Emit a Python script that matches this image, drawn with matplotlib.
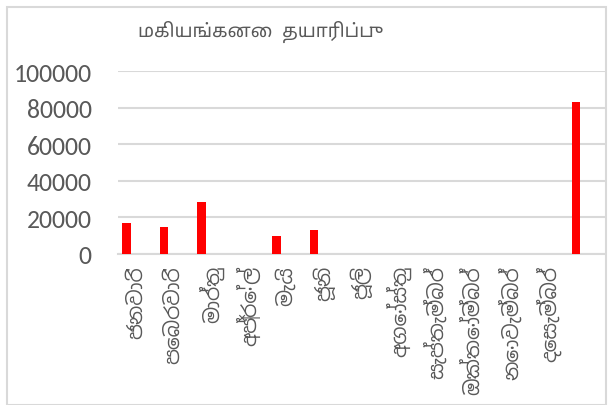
import matplotlib
matplotlib.use("Agg")
import matplotlib.pyplot as plt
from matplotlib import font_manager
from matplotlib.patches import Rectangle
import numpy as np

title = "மகியங்கனை  தயாரிப்பு"
months = ["ජනවාරි", "පෙබරවාරි", "මාර්තු", "අප්‍රේල්", "මැයි", "ජූනි", "ජූලි",
          "අගෝස්තු", "සැප්තැම්බර්", "ඔක්තෝම්බර්", "නොවැම්බර්", "දෙසැම්බර්", ""]
production = [17000, 15000, 28300, 0, 9600, 13000, 0, 0, 0, 0, 0, 0, 83100]
yticks = [0, 20000, 40000, 60000, 80000, 100000]


def pick_font(names):
    have = set(f.name for f in font_manager.fontManager.ttflist)
    for n in names:
        if n in have:
            return n
    return "DejaVu Sans"


sinhala_font = pick_font(["Noto Sans Sinhala", "Abhaya Libre", "FreeSans"])
tamil_font = pick_font(["Noto Sans Tamil", "Hind Madurai", "FreeSans"])
num_font = pick_font(["Carlito", "Liberation Sans"])

grid_col = "#d9d9d9"
text_col = "#595959"

fig = plt.figure(figsize=(6.1, 4.06), dpi=100)
ax = fig.add_axes([118 / 610, 151 / 406, 487 / 610, 183 / 406])

x = np.arange(len(months))
ax.bar(x - 0.27, production, width=0.22, color="#ff0000", zorder=3)

ax.set_xlim(-0.5, len(months) - 0.5)
ax.set_ylim(0, 100000)
ax.set_yticks(yticks)
ax.set_yticklabels([str(v) for v in yticks], fontsize=18.5, color=text_col,
                   family=[num_font, "DejaVu Sans"])
ax.set_xticks(x)
ax.set_xticklabels(months, rotation=90, fontsize=14.5, color=text_col,
                   family=[sinhala_font, "DejaVu Sans"], va="top", ha="center")
ax.tick_params(axis="y", length=0, pad=19)
ax.tick_params(axis="x", length=0, pad=8)
ax.grid(axis="y", color=grid_col, linewidth=1.5, zorder=0)
for s in ["top", "right", "left"]:
    ax.spines[s].set_visible(False)
ax.spines["bottom"].set_color(grid_col)
ax.spines["bottom"].set_linewidth(1.5)

fig.text(138 / 610, 1 - 32 / 406, title, fontsize=13.5, color=text_col,
         family=[tamil_font, "DejaVu Sans"], ha="left", va="center")

fig.patches.append(Rectangle((7 / 610, 0), 599 / 610, 1 - 8 / 406,
                             transform=fig.transFigure, fill=False,
                             edgecolor=grid_col, linewidth=1.5))

fig.savefig("out.png")
